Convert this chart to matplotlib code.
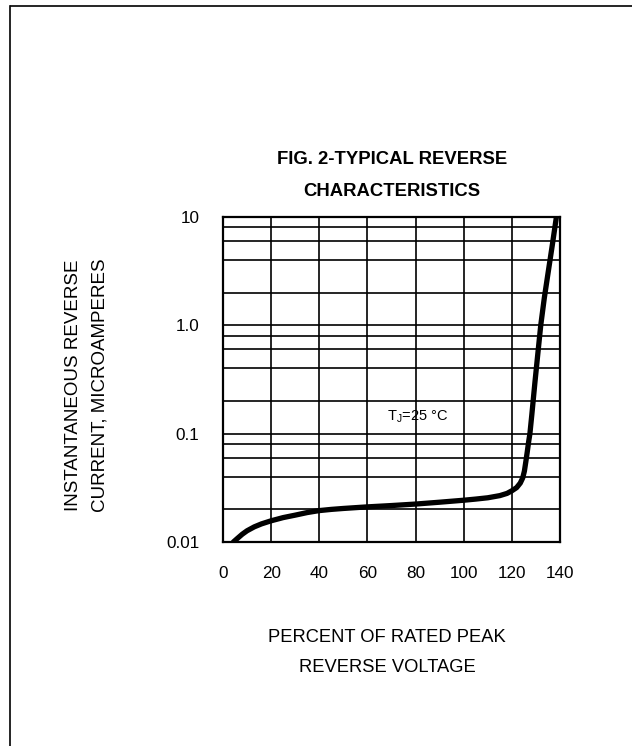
import matplotlib
matplotlib.use("Agg")
import matplotlib.pyplot as plt
from matplotlib.lines import Line2D

plt.rcParams['font.family'] = ['Liberation Sans', 'DejaVu Sans']
plt.rcParams['mathtext.fontset'] = 'custom'
plt.rcParams['mathtext.rm'] = 'Liberation Sans'

# curve (percent of rated voltage vs reverse current, uA)
pct = [4.3, 6, 8, 10, 13, 16, 20, 25, 30, 35, 40, 45, 50, 60, 70, 80, 90,
       100, 105, 110, 115, 118, 120, 122, 123.5, 124.5, 125.2, 125.8, 126.4,
       127, 127.5, 128.3, 129.6, 130.8, 132, 133.5, 135, 136.8, 138.5]
current = [0.0100, 0.0108, 0.0118, 0.0127, 0.0138, 0.0147, 0.0157, 0.0168,
           0.0177, 0.0187, 0.0195, 0.0200, 0.0204, 0.0211, 0.0217, 0.0224,
           0.0233, 0.0243, 0.0249, 0.0256, 0.0268, 0.0281, 0.0297, 0.0318,
           0.0350, 0.0390, 0.0450, 0.0550, 0.0680, 0.085, 0.10, 0.15, 0.30,
           0.55, 1.0, 1.8, 3.0, 5.5, 10.0]

x_ticks = [0, 20, 40, 60, 80, 100, 120, 140]
y_ticks = [0.01, 0.1, 1.0, 10]
y_tick_labels = ['0.01', '0.1', '1.0', '10']
minor_y = [m * d for d in (0.01, 0.1, 1.0) for m in (2, 4, 6, 8)]

W, H = 632, 746
fig = plt.figure(figsize=(W / 100, H / 100), dpi=100)

# axes placed in pixel terms
left, right, top, bottom = 223, 560, 217, 542
ax = fig.add_axes([left / W, 1 - bottom / H, (right - left) / W, (bottom - top) / H])

ax.set_yscale('log')
ax.set_xlim(0, 140)
ax.set_ylim(0.01, 10)

# grid
for xv in x_ticks[1:-1]:
    ax.axvline(xv, color='black', lw=1.2, zorder=1)
for yv in y_ticks[1:-1] + minor_y:
    ax.axhline(yv, color='black', lw=1.2, zorder=1)

ax.plot(pct, current, color='black', lw=3.8, solid_capstyle='round',
        solid_joinstyle='round', zorder=3)

ax.set_xticks(x_ticks)
ax.set_xticklabels([str(v) for v in x_ticks])
ax.set_yticks(y_ticks)
ax.set_yticklabels(y_tick_labels)
ax.yaxis.set_minor_locator(matplotlib.ticker.NullLocator())
ax.tick_params(axis='both', length=0, labelsize=12.3)
ax.tick_params(axis='x', pad=17)
ax.tick_params(axis='y', pad=17)
for s in ax.spines.values():
    s.set_linewidth(1.6)

ax.text(81, 0.143, r'T$_\mathregular{J}$=25 °C', ha='center', va='center', fontsize=10.5)

# titles and labels
cx = 392 / W
fig.text(cx, 1 - 160 / H, 'FIG. 2-TYPICAL REVERSE', ha='center', va='center',
         fontsize=13.3, fontweight='bold')
fig.text(cx, 1 - 192 / H, 'CHARACTERISTICS', ha='center', va='center',
         fontsize=13.3, fontweight='bold')

fig.text(387 / W, 1 - 637 / H, 'PERCENT OF RATED PEAK', ha='center', va='center', fontsize=13.2)
fig.text(387 / W, 1 - 668 / H, 'REVERSE VOLTAGE', ha='center', va='center', fontsize=13.2)

fig.text(73 / W, 1 - 385 / H, 'INSTANTANEOUS REVERSE', ha='center', va='center',
         rotation=90, fontsize=13.5)
fig.text(100 / W, 1 - 385 / H, 'CURRENT, MICROAMPERES', ha='center', va='center',
         rotation=90, fontsize=13.5)

# page border (top and left edges)
fig.add_artist(Line2D([11 / W, 1], [1 - 6 / H, 1 - 6 / H], color='black', lw=1.2))
fig.add_artist(Line2D([10 / W, 10 / W], [0, 1 - 6 / H], color='black', lw=1.2))

fig.savefig('out.png', dpi=100)
